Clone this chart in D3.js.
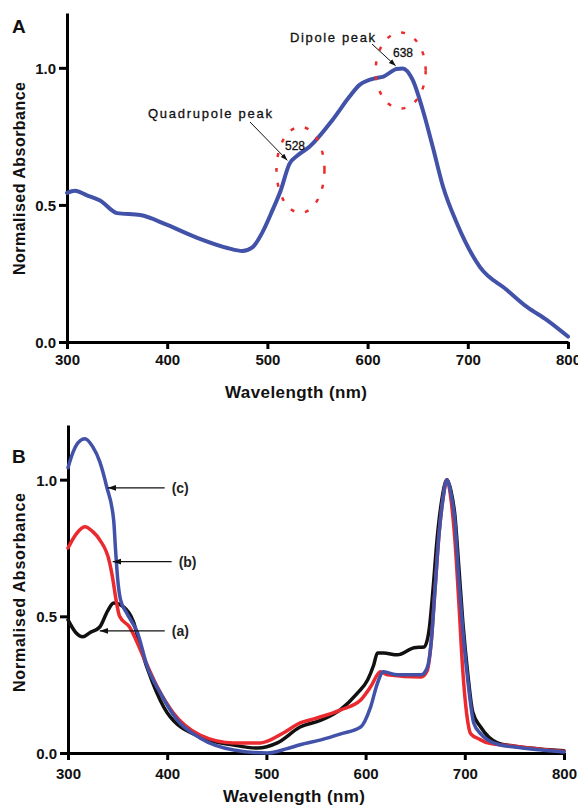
<!DOCTYPE html>
<html>
<head>
<meta charset="utf-8">
<script src="https://cdn.jsdelivr.net/npm/d3@7"></script>
<style>
  body { margin: 0; background: #fff; }
  svg text { font-family: "Liberation Sans", Arial, sans-serif; }
</style>
</head>
<body>
<div id="chart"></div>
<script>
// Panel A - single spectrum
const waveA = [300,308,320,333,350,373,400,430,460,475,485,495,505,513,522,530,542,565,582,592,609,615,629,635,645,655,665,675,689,712,739,759,779,800];
const absA  = [0.544,0.552,0.535,0.516,0.47,0.463,0.427,0.38,0.343,0.332,0.345,0.40,0.48,0.55,0.65,0.68,0.712,0.81,0.895,0.938,0.963,0.967,0.996,0.998,0.956,0.847,0.712,0.57,0.434,0.274,0.19,0.128,0.08,0.02];

// Panel B - three spectra (a), (b), (c)
const waveBa = [300,308,315,322,332,340,346,356,366,373,385,400,433,467,491,511,534,555,575,592,602,608,612,618,632,649,659,664,668,672,677,682,686,690,694,698,703,708,716,733,750,775,800];
const absBa  = [0.487,0.44,0.425,0.44,0.461,0.52,0.549,0.535,0.48,0.388,0.26,0.147,0.059,0.029,0.018,0.037,0.095,0.12,0.16,0.22,0.267,0.32,0.366,0.366,0.359,0.385,0.388,0.45,0.6,0.78,0.93,1.0,0.96,0.87,0.68,0.48,0.29,0.15,0.095,0.037,0.025,0.015,0.008];

const waveBb = [300,308,317,325,332,342,345,348,352,362,376,390,406,433,467,494,517,534,548,575,595,605,615,622,656,662,666,670,674,678,682,686,690,694,698,702,706,715,723,750,784,800];
const absBb  = [0.75,0.80,0.828,0.81,0.78,0.696,0.64,0.57,0.50,0.461,0.352,0.242,0.147,0.066,0.037,0.037,0.073,0.11,0.125,0.158,0.194,0.242,0.297,0.286,0.278,0.30,0.40,0.60,0.80,0.93,1.0,0.93,0.78,0.55,0.30,0.14,0.07,0.05,0.037,0.025,0.011,0.006];

const waveBc = [300,305,310,317,325,332,339,346,348,350,353,359,370,380,393,410,433,467,501,520,534,555,575,595,605,612,618,632,656,662,666,670,674,678,682,686,690,694,698,703,709,716,723,735,750,775,800];
const absBc  = [1.044,1.10,1.135,1.15,1.12,1.066,0.974,0.853,0.74,0.64,0.56,0.513,0.44,0.315,0.22,0.121,0.055,0.011,0.0,0.015,0.03,0.048,0.07,0.095,0.168,0.256,0.297,0.286,0.286,0.311,0.40,0.60,0.80,0.93,1.0,0.95,0.85,0.63,0.45,0.267,0.11,0.07,0.048,0.03,0.022,0.012,0.004];

const xTicks = [300,400,500,600,700,800];
const yTicks = [0.0,0.5,1.0];

const width = 578, height = 805;
const blue = "#4152a8", red = "#ea2a2e", black = "#111";

const svg = d3.select("#chart").append("svg")
  .attr("width", width)
  .attr("height", height);

const defs = svg.append("defs");
defs.append("marker")
  .attr("id", "head")
  .attr("viewBox", "0 0 10 10")
  .attr("refX", 10).attr("refY", 5)
  .attr("markerWidth", 7).attr("markerHeight", 7)
  .attr("orient", "auto")
  .append("path").attr("d", "M0,1.5 L10,5 L0,8.5 Z").attr("fill", "#111");

function drawAxes(x, y, o) {
  const xAxis = d3.axisBottom(x).tickValues(xTicks).tickSize(7).tickSizeOuter(0).tickPadding(o.xPad);
  const yAxis = d3.axisLeft(y).tickValues(yTicks).tickFormat(d3.format(".1f")).tickSize(8).tickSizeOuter(0).tickPadding(3);

  const gx = svg.append("g").attr("transform", `translate(0,${y(0)})`).call(xAxis);
  const gy = svg.append("g").attr("transform", `translate(${x(300)},0)`).call(yAxis);

  [gx, gy].forEach(g => {
    g.select(".domain").attr("stroke", "#000").attr("stroke-width", 3);
    g.selectAll(".tick line").attr("stroke", "#000").attr("stroke-width", 3);
    g.selectAll(".tick text")
      .attr("fill", "#111")
      .style("font-size", "15px")
      .style("font-weight", "bold")
      .style("font-family", "'Liberation Sans', Arial, sans-serif");
  });
  gy.selectAll(".tick text").attr("dy", "0.36em");

  svg.append("text")
    .attr("x", o.xTitleX).attr("y", o.xTitleY)
    .attr("text-anchor", "middle")
    .attr("textLength", 142).attr("lengthAdjust", "spacing")
    .style("font-size", "17px").style("font-weight", "bold").attr("fill", "#111")
    .text("Wavelength (nm)");

  svg.append("text")
    .attr("transform", `translate(25,${o.yTitleY}) rotate(-90)`)
    .attr("text-anchor", "middle")
    .attr("textLength", o.yTitleLen).attr("lengthAdjust", "spacing")
    .style("font-size", "16px").style("font-weight", "bold").attr("fill", "#111")
    .text("Normalised Absorbance");

  svg.append("text")
    .attr("x", 12).attr("y", o.letterY)
    .style("font-size", "19px").style("font-weight", "bold").attr("fill", "#111")
    .text(o.letter);
}

function drawCurve(x, y, waves, vals, color, w) {
  const pts = waves.map((d, i) => [d, vals[i]]);
  const line = d3.line().x(d => x(d[0])).y(d => y(d[1])).curve(d3.curveMonotoneX);
  svg.append("path")
    .datum(pts)
    .attr("d", line)
    .attr("fill", "none")
    .attr("stroke", color)
    .attr("stroke-width", w)
    .attr("stroke-linejoin", "round")
    .attr("stroke-linecap", "round");
}

// ---- Panel A ----
const xA = d3.scaleLinear().domain([300, 800]).range([67, 568]);
const yA = d3.scaleLinear().domain([0, 1.2]).range([342, 13]);

drawAxes(xA, yA, {xPad: 5, xTitleX: 296, xTitleY: 398, yTitleY: 178.5, yTitleLen: 193, letter: "A", letterY: 33});
drawCurve(xA, yA, waveA, absA, blue, 4);

// dashed red circles around the two peaks
const circles = [[633, 0.99, 25, 38], [533, 0.628, 24, 43]];
circles.forEach(c => {
  svg.append("ellipse")
    .attr("cx", xA(c[0])).attr("cy", yA(c[1]))
    .attr("rx", c[2]).attr("ry", c[3])
    .attr("fill", "none")
    .attr("stroke", "#ec2b2b")
    .attr("stroke-width", 2.5)
    .attr("stroke-dasharray", "4,11");
});

// peak labels: [tip wavelength, tip value, text, text x, text y, number, number x, number y, text length]
const peakNotes = [
  [630, 1.0, "Dipole peak", 290, 42, "638", 393, 57, 85],
  [522, 0.655, "Quadrupole peak", 148, 118, "528", 285, 150, 124]
];
peakNotes.forEach(p => {
  const tx = xA(p[0]), ty = yA(p[1]);
  const sx = p[0] > 600 ? 372 : 250, sy = p[0] > 600 ? 44 : 122;
  svg.append("line")
    .attr("x1", sx).attr("y1", sy).attr("x2", tx - 2).attr("y2", ty - 2)
    .attr("stroke", "#111").attr("stroke-width", 1)
    .attr("marker-end", "url(#head)");
  svg.append("text")
    .attr("x", p[3]).attr("y", p[4])
    .attr("textLength", p[8]).attr("lengthAdjust", "spacing")
    .style("font-size", "13px").attr("fill", "#111")
    .attr("stroke", "#111").attr("stroke-width", 0.3)
    .text(p[2]);
  svg.append("text")
    .attr("x", p[6]).attr("y", p[7])
    .style("font-size", "12px").attr("fill", "#111")
    .attr("stroke", "#111").attr("stroke-width", 0.3)
    .text(p[5]);
});

// ---- Panel B ----
const xB = d3.scaleLinear().domain([300, 800]).range([68, 564]);
const yB = d3.scaleLinear().domain([0, 1.2]).range([753, 425]);

drawAxes(xB, yB, {xPad: 8, xTitleX: 294, xTitleY: 802, yTitleY: 592.5, yTitleLen: 199, letter: "B", letterY: 463});
drawCurve(xB, yB, waveBa, absBa, black, 3.5);
drawCurve(xB, yB, waveBb, absBb, red, 3.5);
drawCurve(xB, yB, waveBc, absBc, blue, 3.5);

// (a) (b) (c) arrows: [tip wavelength, tip value, label, line length]
const seriesNotes = [[340, 0.97, "(c)", 57], [345, 0.70, "(b)", 59], [332, 0.447, "(a)", 65]];
seriesNotes.forEach(n => {
  const tx = xB(n[0]), ty = yB(n[1]);
  svg.append("line")
    .attr("x1", tx + n[3]).attr("y1", ty).attr("x2", tx).attr("y2", ty)
    .attr("stroke", "#111").attr("stroke-width", 1.2)
    .attr("marker-end", "url(#head)");
  svg.append("text")
    .attr("x", tx + n[3] + 7).attr("y", ty + 5)
    .style("font-size", "14px").style("font-weight", "bold").attr("fill", "#222")
    .text(n[2]);
});
</script>
</body>
</html>
